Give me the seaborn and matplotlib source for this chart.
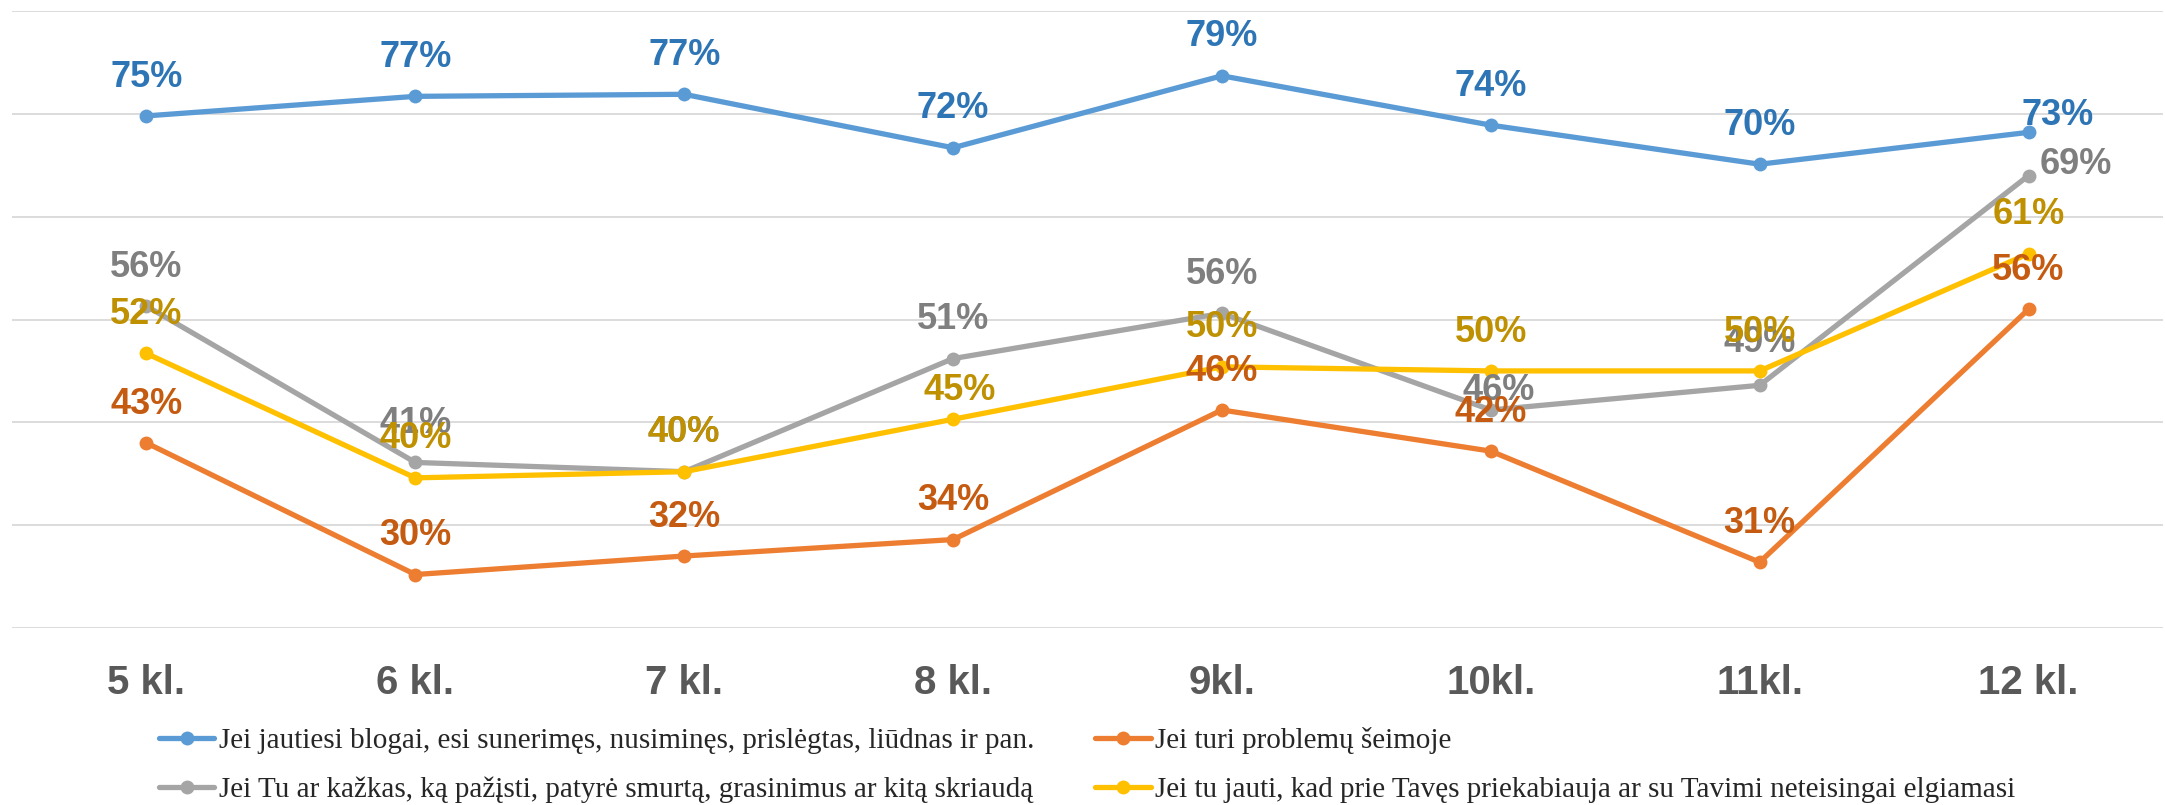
"""
Line chart: when pupils would seek help, by grade
"""
from matplotlib import pyplot as plt
from matplotlib import font_manager
import pandas as pd
import seaborn as sns

grades = ['5 kl.', '6 kl.', '7 kl.', '8 kl.', '9kl.', '10kl.', '11kl.', '12 kl.']

s_blogai = [74.8, 76.7, 76.9, 71.7, 78.7, 73.9, 70.1, 73.2]
s_seima = [43.0, 30.2, 32.0, 33.6, 46.2, 42.2, 31.4, 56.0]
s_smurtas = [56.3, 41.1, 40.2, 51.2, 55.6, 46.2, 48.6, 69.0]
s_priekab = [51.7, 39.6, 40.2, 45.3, 50.4, 50.0, 50.0, 61.4]

names = [
    'Jei jautiesi blogai, esi sunerimęs, nusiminęs, prislėgtas, liūdnas ir pan.',
    'Jei turi problemų šeimoje',
    'Jei Tu ar kažkas, ką pažįsti, patyrė smurtą, grasinimus ar kitą skriaudą',
    'Jei tu jauti, kad prie Tavęs priekabiauja ar su Tavimi neteisingai elgiamasi',
]

line_colors = ['#5B9BD5', '#ED7D31', '#A5A5A5', '#FFC000']
label_colors = ['#2E75B6', '#C55A11', '#7F7F7F', '#BF9000']

sns.set_style('white')
installed = {f.name for f in font_manager.fontManager.ttflist}
sans = 'Liberation Sans Narrow' if 'Liberation Sans Narrow' in installed else 'Liberation Sans'
plt.rcParams['font.family'] = [sans, 'DejaVu Sans']

rows = []
for name, vals in zip(names, [s_blogai, s_seima, s_smurtas, s_priekab]):
    for g, v in zip(grades, vals):
        rows.append([g, v, name])
df = pd.DataFrame(rows, columns=['klase', 'proc', 'serija'])

fig = plt.figure(figsize=(21.65, 8.05), dpi=100)
ax = fig.add_axes([12 / 2165, 1 - 628 / 805, 2151 / 2165, 617 / 805])

sns.lineplot(data=df, x='klase', y='proc', hue='serija', hue_order=names,
             palette=line_colors, marker='o', markersize=10, markeredgewidth=0,
             linewidth=3.8, sort=False, ax=ax, legend=True)

ax.set_xlim(-0.5, 7.5)
ax.set_ylim(25, 85)
ax.set_yticks([25, 35, 45, 55, 65, 75, 85])
ax.set_yticklabels([])
ax.yaxis.grid(True, color='#D9D9D9', linewidth=1.3)
ax.set_axisbelow(True)
for sp in ax.spines.values():
    sp.set_visible(False)
ax.tick_params(axis='both', length=0)
ax.tick_params(axis='x', pad=26)
ax.set_xlabel('')
ax.set_ylabel('')
for t in ax.get_xticklabels():
    t.set_fontsize(29)
    t.set_fontweight('bold')
    t.set_color('#595959')

# label offsets (points), default straight above the marker
offsets = {(2, 5): (6, 14), (2, 7): (8, 8), (0, 7): (21, 12), (3, 3): (5, 21), (2, 6): (0, 31)}
series = [s_blogai, s_seima, s_smurtas, s_priekab]
for si in [0, 2, 3, 1]:
    for i, v in enumerate(series[si]):
        dx, dy = offsets.get((si, i), (0, 28))
        ha = 'left' if (si, i) == (2, 7) else 'center'
        ax.annotate(f'{round(v)}%', (i, v), xytext=(dx, dy), textcoords='offset points',
                    ha=ha, va='center', fontsize=26, fontweight='bold',
                    color=label_colors[si])

handles, labels = ax.get_legend_handles_labels()
order = [0, 2, 1, 3]
ax.legend([handles[k] for k in order], [labels[k] for k in order], ncol=2,
          loc='upper left', bbox_to_anchor=(159 / 2165, 1 - 727 / 805),
          bbox_transform=fig.transFigure, frameon=False,
          prop={'family': ['Liberation Serif', 'DejaVu Serif'], 'size': 21},
          handlelength=1.9, handletextpad=0.15, columnspacing=2.1,
          labelspacing=0.78, borderpad=0, borderaxespad=0)

plt.savefig('out.png', dpi=100)
